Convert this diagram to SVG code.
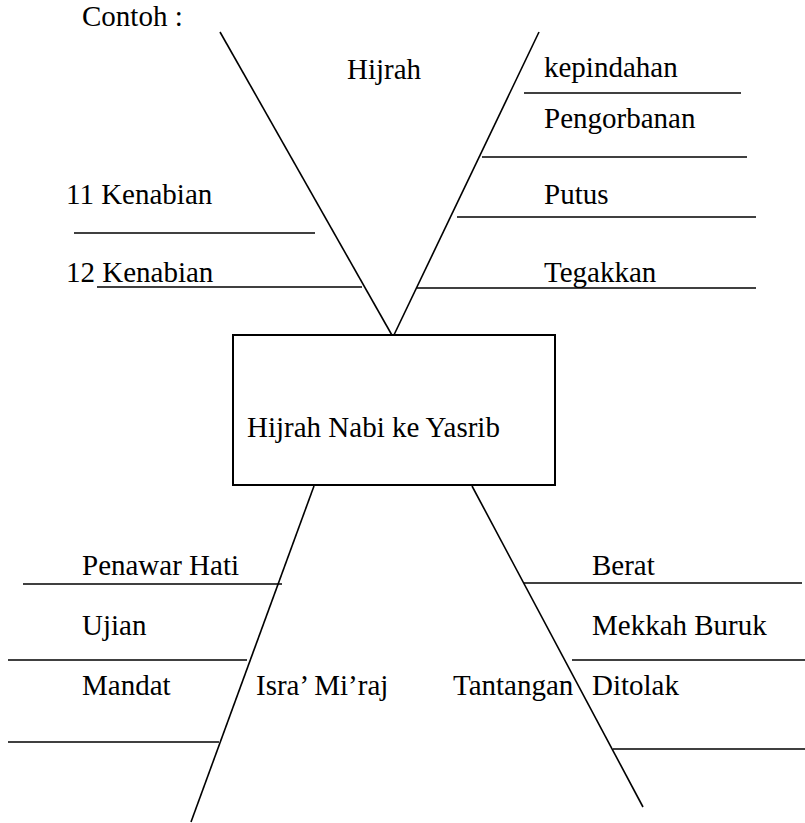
<svg xmlns="http://www.w3.org/2000/svg" width="805" height="823" viewBox="0 0 805 823">
<style>
.t{font-family:'Liberation Serif', 'DejaVu Serif', serif;font-size:29px;fill:#000}
.l{stroke:#000;stroke-width:1.6;fill:none}
.box{stroke:#000;stroke-width:2;fill:#fff}
</style>
<rect width="805" height="823" fill="#fff"/>
<g class="t" font-family="Liberation Serif, serif">
<text x="82" y="26">Contoh :</text>
</g>
<g id="connectors">
<line class="l" x1="220" y1="32" x2="393" y2="337"/>
<line class="l" x1="539" y1="32" x2="393" y2="337"/>
<line class="l" x1="314" y1="486" x2="191" y2="822"/>
<line class="l" x1="472" y1="486" x2="643" y2="807"/>
<line class="l" x1="524" y1="93" x2="741" y2="93"/>
<line class="l" x1="482" y1="157" x2="747" y2="157"/>
<line class="l" x1="457" y1="217" x2="756" y2="217"/>
<line class="l" x1="417" y1="288" x2="756" y2="288"/>
<line class="l" x1="74" y1="233" x2="315" y2="233"/>
<line class="l" x1="97" y1="287" x2="362" y2="287"/>
<line class="l" x1="23" y1="584" x2="282" y2="584"/>
<line class="l" x1="8" y1="660" x2="247" y2="660"/>
<line class="l" x1="8" y1="742" x2="219" y2="742"/>
<line class="l" x1="524" y1="583" x2="802" y2="583"/>
<line class="l" x1="572" y1="660" x2="805" y2="660"/>
<line class="l" x1="613" y1="749" x2="805" y2="749"/>
</g>
<g id="center" class="t">
<rect class="box" x="233" y="335" width="322" height="150"/>
<text x="247" y="437">Hijrah Nabi ke Yasrib</text>
</g>
<g id="hijrah" class="t">
<text x="347" y="79">Hijrah</text>
<text x="544" y="77">kepindahan</text>
<text x="544" y="128">Pengorbanan</text>
<text x="544" y="204">Putus</text>
<text x="544" y="282">Tegakkan</text>
<text x="66" y="204">11 Kenabian</text>
<text x="66" y="282">12 Kenabian</text>
</g>
<g id="isra" class="t">
<text x="82" y="575">Penawar Hati</text>
<text x="82" y="635">Ujian</text>
<text x="82" y="695">Mandat</text>
<text x="256" y="695">Isra’ Mi’raj</text>
</g>
<g id="tantangan" class="t">
<text x="453" y="695">Tantangan</text>
<text x="592" y="575">Berat</text>
<text x="592" y="635">Mekkah Buruk</text>
<text x="592" y="695">Ditolak</text>
</g>
</svg>
